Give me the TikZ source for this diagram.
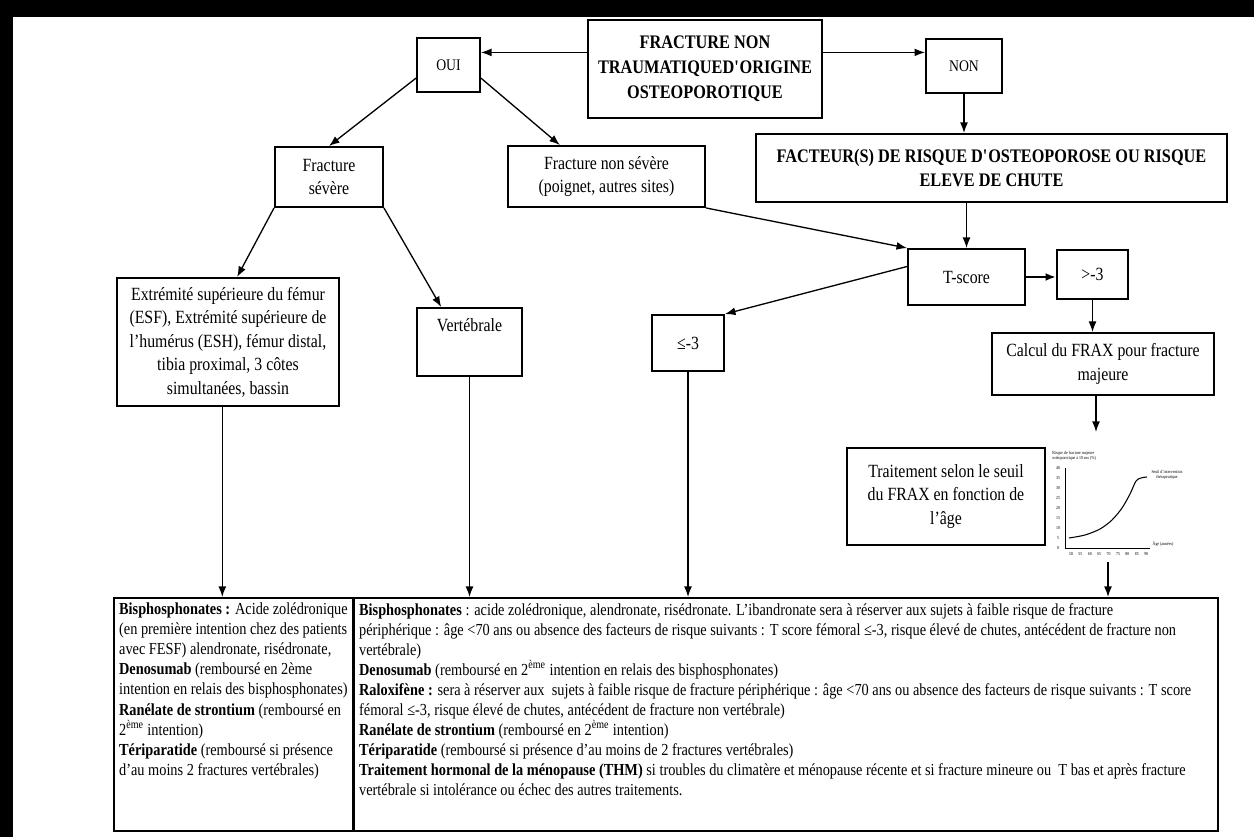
\documentclass[tikz,border=0pt]{standalone}
\usepackage{fontspec}
\setmainfont{Liberation Serif}[FakeStretch=0.85]
\usepackage{tikz}
\usetikzlibrary{arrows.meta, positioning}
\newdimen\pix \pix=0.02cm

\begin{document}
\begin{tikzpicture}[x=0.02cm, y=-0.02cm,
  box/.style={rectangle, draw, line width=1.1pt, align=center, inner sep=1pt, font=\fontsize{10.6}{13.4}\selectfont},
  headbox/.style={box, font=\fontsize{10.9}{14.2}\selectfont\bfseries},
  answer/.style={box, font=\fontsize{9.2}{11}\selectfont},
  listbox/.style={rectangle, draw, line width=1.3pt, anchor=north west, inner sep=5\pix, font=\fontsize{9.6}{11.4}\selectfont},
  arrow/.style={-{Latex[length=6pt, width=4.5pt]}, line width=0.75pt},
  chartlbl/.style={font=\fontsize{2.6}{3}\selectfont, inner sep=0pt}
]
  \useasboundingbox (0,0) rectangle (1254,837);
  % Frame
  \fill[black] (0,0) rectangle (1254,17);
  \fill[black] (0,0) rectangle (13,837);

  % Top row
  \node[headbox, minimum width=234\pix, minimum height=98\pix] (main) at (705,69) {FRACTURE NON\\TRAUMATIQUED\textquotesingle ORIGINE\\OSTEOPOROTIQUE};
  \node[answer, minimum width=63\pix, minimum height=54\pix] (oui) at (448.5,65) {OUI};
  \node[answer, minimum width=76\pix, minimum height=54\pix] (non) at (964,66) {NON};
  \node[headbox, minimum width=471\pix, minimum height=68\pix] (fact) at (991.5,168) {FACTEUR(S) DE RISQUE D\textquotesingle OSTEOPOROSE OU RISQUE\\ELEVE DE CHUTE};

  % Fracture type
  \node[box, minimum width=108\pix, minimum height=60\pix] (fs) at (329,177) {Fracture\\sévère};
  \node[box, minimum width=197\pix, minimum height=61\pix] (fns) at (606.5,176.5) {Fracture non sévère\\(poignet, autres sites)};
  \node[box, minimum width=222\pix, minimum height=128\pix] (esf) at (228,342) {Extrémité supérieure du fémur\\(ESF), Extrémité supérieure de\\l'humérus (ESH), fémur distal,\\tibia proximal, 3 côtes\\simultanées, bassin};
  \node[box, minimum width=105\pix, minimum height=68\pix] (vert) at (469.5,342) {Vertébrale\\[6pt]\mbox{}};

  % T-score branch
  \node[box, minimum width=117\pix, minimum height=56\pix] (tscore) at (966.5,277) {T-score};
  \node[box, minimum width=71\pix, minimum height=49\pix] (gt) at (1092.5,274.5) {>-3};
  \node[box, minimum width=72\pix, minimum height=56\pix] (le) at (688,343) {≤-3};
  \node[box, minimum width=222\pix, minimum height=62\pix] (calc) at (1103,364) {Calcul du FRAX pour fracture\\majeure};
  \node[box, minimum width=198\pix, minimum height=97\pix] (trait) at (946,496.5) {Traitement selon le seuil\\du FRAX en fonction de\\l'âge};

  % FRAX threshold chart
  \draw[line width=0.4pt] (1065,468) -- (1065,548) -- (1150,548);
  \draw[line width=0.6pt] plot[smooth] coordinates {(1069,538) (1085,535) (1100,529) (1112,520) (1122,508) (1130,494) (1136,481) (1141,478) (1147,477)};
  \node[chartlbl, anchor=south west, align=left] (charttitle) at (1052,461) {Risque de fracture majeure\\ostéoporotique à 10 ans (\%)};
  \foreach \v [count=\i from 0] in {40,35,30,25,20,15,10,5,0}
    \node[chartlbl] (ytick\i) at (1058,468+\i*10) {\v};
  \foreach \v [count=\i from 0] in {50,55,60,65,70,75,80,85,90}
    \node[chartlbl] (xtick\i) at (1071+\i*9.4,554) {\v};
  \node[chartlbl, align=center] (seuil) at (1167,475) {Seuil d'intervention\\thérapeutique};
  \node[chartlbl] (agelbl) at (1163,544) {Âge (années)};
  \coordinate (chartTop) at (1096,432);
  \coordinate (chartBot) at (1108,562);

  % Treatments
  \node[listbox] (bl) at (113,597) {\parbox[t][223\pix][t]{229\pix}{\raggedright
    \textbf{Bisphosphonates :} Acide zolédronique\\
    (en première intention chez des patients\\
    avec FESF) alendronate, risédronate,\\
    \textbf{Denosumab} (remboursé en 2ème\\
    intention en relais des bisphosphonates)\\
    \textbf{Ranélate de strontium} (remboursé en\\
    2\textsuperscript{ème} intention)\\
    \textbf{Tériparatide} (remboursé si présence\\
    d'au moins 2 fractures vertébrales)}};
  \node[listbox] (br) at (353,597) {\parbox[t][223\pix][t]{854\pix}{\raggedright
    \textbf{Bisphosphonates} : acide zolédronique, alendronate, risédronate. L'ibandronate sera à réserver aux sujets à faible risque de fracture\\
    périphérique : âge <70 ans ou absence des facteurs de risque suivants : T score fémoral ≤-3, risque élevé de chutes, antécédent de fracture non\\
    vertébrale)\\
    \textbf{Denosumab} (remboursé en 2\textsuperscript{ème} intention en relais des bisphosphonates)\\
    \textbf{Raloxifène :} sera à réserver aux\ \ sujets à faible risque de fracture périphérique : âge <70 ans ou absence des facteurs de risque suivants : T score\\
    fémoral ≤-3, risque élevé de chutes, antécédent de fracture non vertébrale)\\
    \textbf{Ranélate de strontium} (remboursé en 2\textsuperscript{ème} intention)\\
    \textbf{Tériparatide} (remboursé si présence d'au moins de 2 fractures vertébrales)\\
    \textbf{Traitement hormonal de la ménopause (THM)} si troubles du climatère et ménopause récente et si fracture mineure ou\ \ T bas et après fracture\\
    vertébrale si intolérance ou échec des autres traitements.}};

  % Arrows
  \draw[arrow] (main.172) -- (main.172 -| oui.east);
  \draw[arrow] (main.8) -- (main.8 -| non.west);
  \draw[arrow] (non.south) -- (non.south |- fact.north);
  \draw[arrow] (oui.202) -- (fs.north);
  \draw[arrow] (oui.-22) -- (fns.146);
  \draw[arrow] (fs.south west) -- (esf.82);
  \draw[arrow] (fs.south east) -- (vert.129);
  \draw[arrow] (fns.south east) -- (tscore.north west);
  \draw[arrow] (tscore.north |- fact.south) -- (tscore.north);
  \draw[arrow, line width=1.4pt] (tscore.east) -- (tscore.east -| gt.west);
  \draw[arrow] (tscore.170) -- (le.north east);
  \draw[arrow] (gt.south) -- (gt.south |- calc.north);
  \draw[arrow] (calc.south -| chartTop) -- (chartTop);
  \draw[arrow] (esf.265) -- (esf.265 |- bl.north);
  \draw[arrow] (vert.south) -- (vert.south |- br.north);
  \draw[arrow] (le.south) -- (le.south |- br.north);
  \draw[arrow] (chartBot) -- (chartBot |- br.north);
\end{tikzpicture}
\end{document}
